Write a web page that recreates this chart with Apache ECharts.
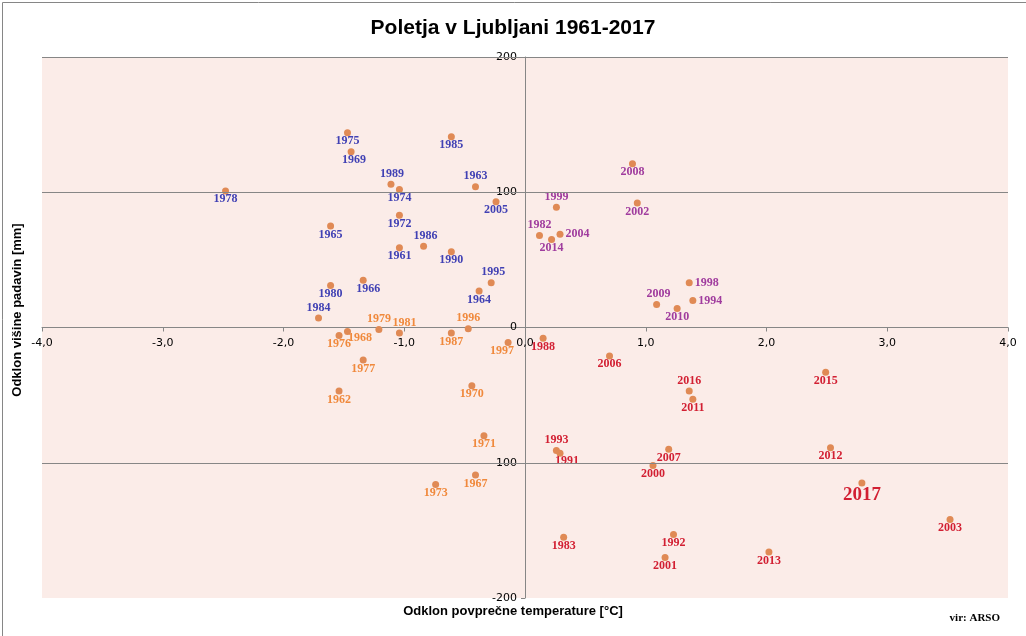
<!DOCTYPE html>
<html>
<head>
<meta charset="utf-8">
<script src="https://cdn.jsdelivr.net/npm/echarts@6/dist/echarts.min.js"></script>
<style>
  html, body { margin: 0; padding: 0; background: #ffffff; }
  #chart { width: 1026px; height: 636px; }
</style>
</head>
<body>
<div id="chart"></div>
<script>
var years = [1961, 1962, 1963, 1964, 1965, 1966, 1967, 1968, 1969, 1970,
  1971, 1972, 1973, 1974, 1975, 1976, 1977, 1978, 1979, 1980,
  1981, 1982, 1983, 1984, 1985, 1986, 1987, 1988, 1989, 1990,
  1991, 1992, 1993, 1994, 1995, 1996, 1997, 1998, 1999, 2000,
  2001, 2002, 2003, 2004, 2005, 2006, 2007, 2008, 2009, 2010,
  2011, 2012, 2013, 2014, 2015, 2016, 2017];

// odklon temperature [°C]
var tempDev = [-1.04, -1.54, -0.41, -0.38, -1.61, -1.34, -0.41, -1.47, -1.44, -0.44,
  -0.34, -1.04, -0.74, -1.04, -1.47, -1.54, -1.34, -2.48, -1.21, -1.61,
  -1.04, 0.12, 0.32, -1.71, -0.61, -0.84, -0.61, 0.15, -1.11, -0.61,
  0.29, 1.23, 0.26, 1.39, -0.28, -0.47, -0.14, 1.36, 0.26, 1.06,
  1.16, 0.93, 3.52, 0.29, -0.24, 0.70, 1.19, 0.89, 1.09, 1.26,
  1.39, 2.53, 2.02, 0.22, 2.49, 1.36, 2.79];

// odklon padavin [mm]
var rainDev = [59, -47, 104, 27, 75, 35, -109, -3, 130, -43,
  -80, 83, -116, 102, 144, -6, -24, 101, -1.5, 31,
  -4, 68, -155, 7, 141, 60, -4, -8, 106, 56,
  -93, -153, -91, 20, 33, -1, -11, 33, 89, -102,
  -170, 92, -142, 69, 93, -21, -90, 121, 17, 14,
  -53, -89, -166, 65, -33, -47, -115];

// where each year label sits next to its point: [side, dx, dy]
var labelPlace = {
  1963: ["top", 0, 0], 1966: ["bottom", 5, 0], 1968: ["right", -5, 6], 1979: ["top", 0, 0],
  1981: ["top", 5, 0], 1982: ["top", 0, 0], 1984: ["top", 0, 0], 1986: ["top", 2, 0],
  1989: ["top", 1, 0], 1991: ["bottom", 7, -1], 1993: ["top", 0, 0], 1994: ["right", 0, 0],
  1995: ["top", 2, 0], 1996: ["top", 0, 0], 1997: ["bottom", -6, 0], 1998: ["right", 0, 0],
  1999: ["top", 0, 0], 2004: ["right", 0, 0], 2009: ["top", 2, 0], 2016: ["top", 0, 0],
  1969: ["bottom", 3, 0], 1981: ["top", 5, 0]
};

function labelColor(x, y) {
  if (x < 0 && y >= 0) return "#4141b4";
  if (x < 0 && y < 0) return "#f0893c";
  if (x >= 0 && y >= 0) return "#a03c9e";
  return "#d21f32";
}

var SYM = 7;

function labelStyle(yr) {
  var p = labelPlace[yr] || ["bottom", 0, 0];
  var h = SYM / 2;
  if (p[0] === "top") {
    return { position: [h + p[1], -1 + p[2]], align: "center", verticalAlign: "bottom" };
  }
  if (p[0] === "right") {
    return { position: [SYM + 2 + p[1], h + p[2]], align: "left", verticalAlign: "middle" };
  }
  return { position: [h + p[1], SYM - 1 + p[2]], align: "center", verticalAlign: "top" };
}

var points = years.map(function (yr, i) {
  var l = labelStyle(yr);
  l.color = labelColor(tempDev[i], rainDev[i]);
  l.fontSize = yr === 2017 ? 19 : 12;
  return { value: [tempDev[i], rainDev[i], yr], label: l };
});

var chart = echarts.init(document.getElementById("chart"));
chart.setOption({
  backgroundColor: "#ffffff",
  animation: false,
  title: {
    text: "Poletja v Ljubljani 1961-2017",
    left: "center",
    top: 13,
    textStyle: { fontFamily: "Liberation Sans", fontSize: 21, fontWeight: "bold", color: "#000000" }
  },
  grid: {
    left: 42,
    right: 18,
    top: 57,
    bottom: 38,
    show: true,
    backgroundColor: "#fbece8",
    borderWidth: 0
  },
  xAxis: {
    type: "value",
    min: -4,
    max: 4,
    interval: 1,
    offset: -270.5,
    axisLine: { onZero: false, lineStyle: { color: "#868686", width: 1 } },
    axisTick: { show: true, length: 4, lineStyle: { color: "#868686" } },
    splitLine: { show: false },
    axisLabel: {
      margin: 10,
      color: "#000000",
      fontFamily: "DejaVu Sans",
      fontSize: 11,
      showMinLabel: true,
      showMaxLabel: true,
      formatter: function (v) { return v.toFixed(1).replace(".", ","); }
    }
  },
  yAxis: {
    type: "value",
    min: -200,
    max: 200,
    interval: 100,
    offset: -483,
    axisLine: { onZero: false, lineStyle: { color: "#868686", width: 1 } },
    axisTick: { show: true, length: 4, lineStyle: { color: "#868686" } },
    splitLine: { show: false },
    axisLabel: {
      margin: 8,
      color: "#000000",
      fontFamily: "DejaVu Sans",
      fontSize: 11,
      showMinLabel: true,
      showMaxLabel: true
    }
  },
  graphic: [
    {
      type: "rect",
      left: 0,
      top: 0,
      shape: { width: 1025, height: 635 },
      style: { fill: null, stroke: "#868686", lineWidth: 1 },
      silent: true
    },
    {
      type: "text",
      left: "center",
      top: 605,
      style: {
        text: "Odklon povprečne temperature [°C]",
        font: "bold 13px 'Liberation Sans'",
        fill: "#000000"
      }
    },
    {
      type: "text",
      rotation: Math.PI / 2,
      x: 11,
      y: 310,
      style: {
        text: "Odklon višine padavin [mm]",
        font: "bold 13px 'Liberation Sans'",
        fill: "#000000",
        align: "center",
        verticalAlign: "top"
      }
    },
    {
      type: "text",
      right: 26,
      top: 613,
      style: {
        text: "vir: ARSO",
        font: "bold 11px 'Liberation Serif'",
        fill: "#000000"
      }
    }
  ],
  series: [
    {
      type: "scatter",
      z: 1,
      data: [],
      markLine: {
        silent: true,
        symbol: "none",
        label: { show: false },
        lineStyle: { color: "#868686", width: 1, type: "solid" },
        data: [{ yAxis: 200 }, { yAxis: 100 }, { yAxis: -100 }]
      }
    },
    {
      type: "scatter",
      z: 3,
      symbolSize: SYM,
      itemStyle: { color: "#e08a55", opacity: 1 },
      label: {
        show: true,
        fontFamily: "Liberation Serif",
        fontWeight: "bold",
        formatter: function (p) { return p.value[2]; }
      },
      labelLayout: { hideOverlap: false },
      data: points
    }
  ]
});
</script>
</body>
</html>
